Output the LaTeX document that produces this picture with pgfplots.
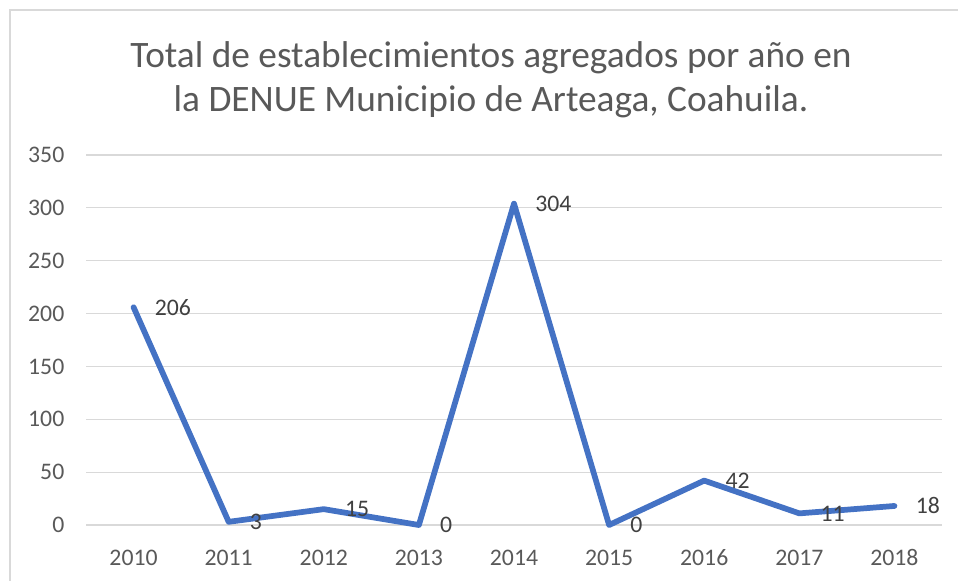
\documentclass[border=0pt]{standalone}
\usepackage{fontspec}
\setmainfont{Carlito}
\usepackage{pgfplots}
\pgfplotsset{compat=1.18}

\definecolor{serie}{HTML}{4472C4}
\definecolor{rejilla}{HTML}{D9D9D9}
\definecolor{textogris}{HTML}{595959}
\definecolor{etiqueta}{HTML}{404040}

\begin{document}
\begin{tikzpicture}
% 1 px of the reference = 0.75pt
\useasboundingbox (0,0) rectangle (718.5pt,-435.75pt);
\draw[rejilla, line width=1pt] (7.5pt,-450pt) -- (7.5pt,-7.5pt) -- (740pt,-7.5pt);

\node[anchor=base, text=textogris, font=\fontsize{28}{33}\selectfont] at (368.25pt,-50.5pt)
  {Total de establecimientos agregados por año en};
\node[anchor=base, text=textogris, font=\fontsize{28}{33}\selectfont] at (368.25pt,-83.8pt)
  {la DENUE Municipio de Arteaga, Coahuila.};

\begin{axis}[
    at={(64.5pt,-393.75pt)}, anchor=south west,
    scale only axis,
    width=642pt, height=277.5pt,
    xmin=-0.5, xmax=8.5,
    ymin=0, ymax=350,
    xtick={0,...,8},
    xticklabels={2010,2011,2012,2013,2014,2015,2016,2017,2018},
    ytick={0,50,...,350},
    axis line style={draw=none},
    major tick length=0pt,
    ymajorgrids,
    grid style={rejilla, line width=0.9pt},
    tick label style={text=textogris, font=\fontsize{17.8}{21}\selectfont},
    /pgf/number format/assume math mode=true,
    yticklabel style={xshift=-12.75pt},
    xticklabel style={yshift=-15pt},
    clip=false,
]
\addplot[serie, line width=4.3pt, line join=round, line cap=round,
    nodes near coords,
    every node near coord/.append style={anchor=west, xshift=10.5pt,
        text=etiqueta, font=\fontsize{17.8}{21}\selectfont},
] coordinates {
    (0,206) (1,3) (2,15) (3,0) (4,304) (5,0) (6,42) (7,11) (8,18)
};
\end{axis}
\end{tikzpicture}
\end{document}
